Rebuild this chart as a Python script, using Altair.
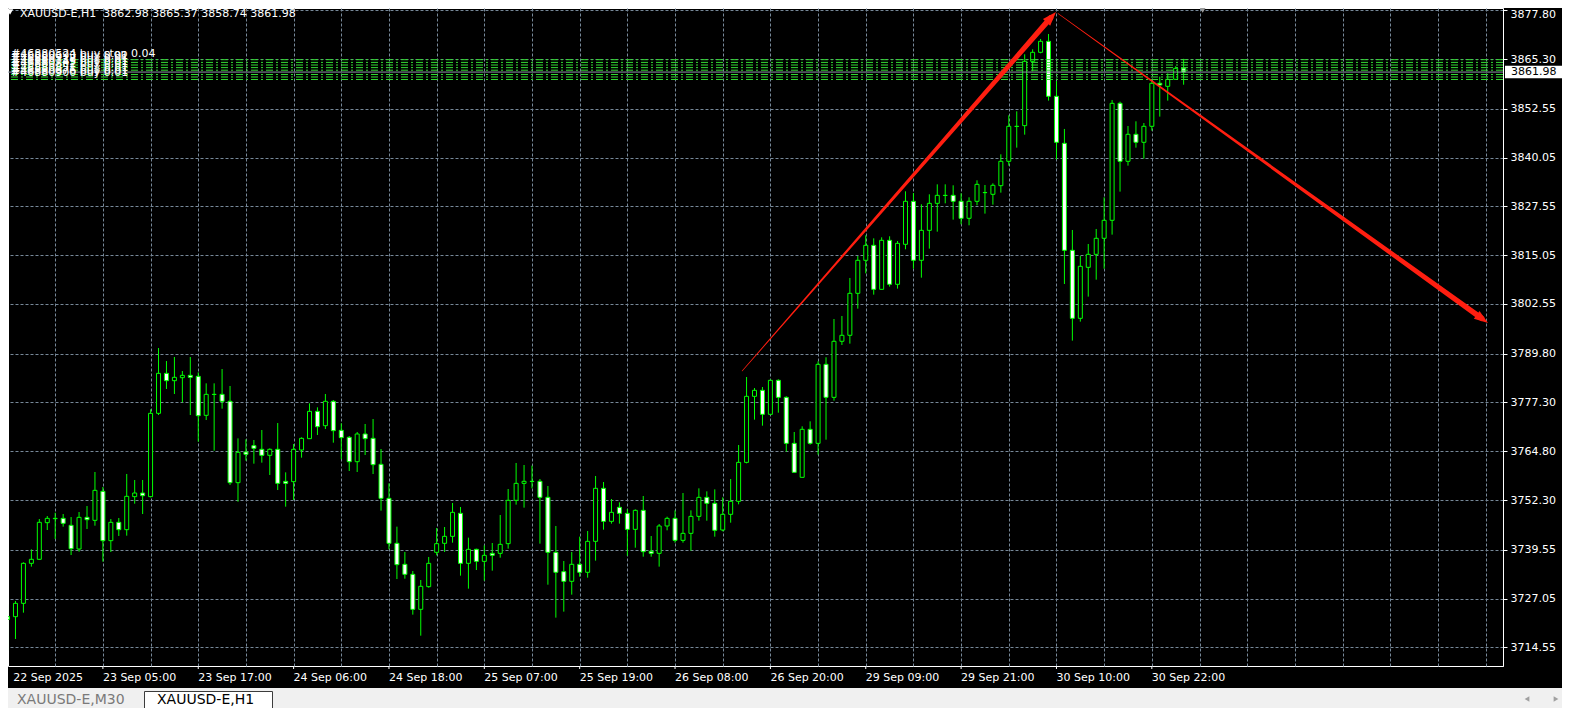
import altair as alt
import pandas as pd

# ---------------- data ----------------
bar_index = list(range(149))

opens = [
    3722.41, 3722.41, 3725.83, 3736.08, 3737.11, 3746.50, 3747.53, 3747.61, 3745.82, 3739.75,
    3747.87, 3747.10, 3754.53, 3741.89, 3746.59, 3744.71, 3753.17, 3754.10, 3753.17, 3774.52,
    3784.77, 3782.89, 3783.66, 3784.26, 3784.00, 3774.01, 3779.35, 3779.39, 3777.60, 3756.75,
    3764.61, 3766.24, 3765.30, 3763.76, 3765.30, 3757.09, 3757.01, 3765.12, 3768.03, 3775.03,
    3771.36, 3777.60, 3770.16, 3768.37, 3762.13, 3769.23, 3768.11, 3761.45, 3752.74, 3741.21,
    3735.83, 3733.26, 3724.29, 3730.10, 3738.90, 3741.21, 3743.00, 3748.90, 3736.08, 3739.67,
    3736.59, 3738.64, 3738.64, 3741.12, 3752.23, 3756.58, 3757.05, 3757.10, 3753.00, 3738.90,
    3733.95, 3731.47, 3735.83, 3733.78, 3741.72, 3755.30, 3746.84, 3750.43, 3748.89, 3744.79,
    3749.66, 3739.16, 3738.64, 3745.65, 3747.61, 3741.97, 3743.77, 3748.12, 3752.99, 3751.46,
    3744.62, 3748.64, 3751.97, 3761.96, 3778.88, 3780.42, 3774.27, 3782.98, 3778.62, 3766.83,
    3758.12, 3770.42, 3766.83, 3787.08, 3778.62, 3792.98, 3794.52, 3805.28, 3813.74, 3817.58,
    3806.30, 3818.86, 3807.59, 3817.84, 3828.86, 3813.74, 3821.42, 3828.34, 3830.35, 3830.39,
    3828.86, 3824.50, 3828.86, 3831.08, 3830.65, 3832.87, 3839.11, 3848.04, 3848.25, 3864.74,
    3867.04, 3869.86, 3855.77, 3843.72, 3816.30, 3798.87, 3811.94, 3815.27, 3819.38, 3823.99,
    3853.97, 3839.11, 3846.03, 3843.98, 3848.08, 3859.10, 3858.33, 3860.12, 3862.98,
]
highs = [
    3725.57, 3726.43, 3736.34, 3739.67, 3747.44, 3748.21, 3749.06, 3748.72, 3747.95, 3749.23,
    3750.77, 3759.49, 3755.64, 3747.44, 3747.70, 3758.98, 3757.44, 3757.44, 3775.55, 3791.26,
    3787.93, 3788.96, 3785.37, 3788.96, 3785.03, 3782.21, 3782.21, 3785.88, 3781.53, 3768.11,
    3767.86, 3767.69, 3770.25, 3765.55, 3772.04, 3759.40, 3766.66, 3768.37, 3777.08, 3776.06,
    3779.48, 3777.94, 3771.96, 3768.71, 3769.74, 3771.79, 3773.07, 3765.38, 3756.58, 3745.48,
    3738.99, 3734.12, 3731.81, 3737.71, 3745.14, 3745.39, 3751.54, 3750.52, 3742.66, 3739.84,
    3740.69, 3741.29, 3748.47, 3755.13, 3761.80, 3761.28, 3761.11, 3757.69, 3755.90, 3745.65,
    3736.68, 3738.99, 3742.92, 3744.37, 3758.46, 3756.92, 3752.57, 3751.71, 3750.00, 3749.90,
    3753.34, 3743.08, 3746.16, 3748.04, 3749.66, 3754.10, 3749.66, 3755.30, 3754.53, 3755.04,
    3752.99, 3757.69, 3766.41, 3783.83, 3781.01, 3781.27, 3783.24, 3783.24, 3778.90, 3769.74,
    3771.19, 3772.47, 3787.85, 3788.88, 3798.70, 3799.47, 3809.21, 3814.85, 3820.14, 3819.37,
    3819.63, 3819.89, 3818.69, 3831.42, 3830.99, 3828.09, 3830.65, 3833.21, 3833.21, 3832.96,
    3830.91, 3829.88, 3834.24, 3833.04, 3833.47, 3840.90, 3850.90, 3851.92, 3866.53, 3867.81,
    3870.46, 3871.74, 3859.70, 3847.40, 3821.51, 3814.85, 3817.92, 3821.77, 3829.88, 3854.83,
    3854.40, 3848.16, 3849.36, 3848.93, 3860.12, 3860.81, 3861.66, 3863.46, 3865.37,
]
lows = [
    3713.70, 3716.69, 3723.44, 3735.23, 3736.93, 3744.62, 3742.32, 3745.48, 3738.21, 3739.07,
    3744.88, 3745.73, 3736.51, 3738.98, 3743.09, 3743.17, 3751.37, 3748.72, 3752.99, 3774.09,
    3780.76, 3779.48, 3777.34, 3774.09, 3767.26, 3772.81, 3764.95, 3775.72, 3756.15, 3751.88,
    3762.39, 3761.62, 3761.88, 3758.72, 3754.87, 3750.60, 3752.31, 3763.16, 3768.03, 3768.97,
    3770.51, 3767.00, 3762.73, 3759.74, 3759.49, 3763.84, 3758.97, 3749.58, 3739.67, 3732.06,
    3732.15, 3722.93, 3717.54, 3729.85, 3738.13, 3738.99, 3741.38, 3732.92, 3729.59, 3734.37,
    3731.64, 3734.20, 3737.53, 3739.84, 3751.12, 3750.35, 3755.30, 3741.12, 3730.61, 3722.16,
    3723.70, 3728.05, 3732.66, 3732.41, 3736.77, 3744.71, 3746.25, 3746.25, 3738.04, 3740.09,
    3737.79, 3737.79, 3735.23, 3744.54, 3741.38, 3741.38, 3739.33, 3747.01, 3747.01, 3742.91,
    3744.28, 3746.50, 3751.20, 3761.71, 3772.90, 3771.36, 3774.09, 3774.69, 3764.70, 3759.40,
    3758.12, 3766.49, 3763.93, 3767.77, 3777.77, 3792.04, 3792.38, 3801.35, 3810.40, 3804.94,
    3806.30, 3806.99, 3806.48, 3816.56, 3811.60, 3809.29, 3816.73, 3821.08, 3828.34, 3824.16,
    3822.96, 3822.71, 3827.83, 3825.70, 3828.00, 3831.08, 3838.00, 3842.61, 3845.94, 3862.17,
    3866.79, 3854.66, 3839.62, 3807.67, 3793.15, 3798.02, 3804.43, 3808.78, 3811.60, 3820.32,
    3831.34, 3838.00, 3842.61, 3839.79, 3846.97, 3850.56, 3854.66, 3859.95, 3858.74,
]
closes = [
    3721.73, 3725.83, 3736.08, 3737.11, 3746.59, 3747.61, 3747.61, 3746.33, 3739.84, 3747.87,
    3747.27, 3754.79, 3741.89, 3746.59, 3744.71, 3753.25, 3754.10, 3753.42, 3774.52, 3784.77,
    3782.89, 3783.75, 3784.26, 3783.75, 3773.92, 3779.39, 3779.39, 3777.60, 3756.75, 3764.53,
    3764.01, 3765.55, 3763.76, 3765.30, 3756.58, 3756.58, 3765.30, 3768.11, 3775.03, 3771.10,
    3777.60, 3770.08, 3768.29, 3762.13, 3769.23, 3768.03, 3761.37, 3752.74, 3741.21, 3735.74,
    3733.26, 3724.29, 3730.19, 3736.08, 3741.12, 3743.00, 3749.15, 3736.08, 3739.67, 3736.59,
    3738.13, 3738.13, 3740.95, 3752.23, 3756.58, 3757.10, 3757.10, 3753.00, 3738.90, 3733.78,
    3731.47, 3735.83, 3733.78, 3741.72, 3755.30, 3746.84, 3749.15, 3748.89, 3744.79, 3749.66,
    3739.07, 3738.64, 3745.65, 3747.61, 3741.97, 3743.77, 3748.12, 3752.99, 3751.46, 3744.54,
    3748.64, 3751.97, 3761.96, 3778.88, 3780.42, 3774.27, 3782.98, 3778.62, 3766.83, 3759.40,
    3770.42, 3766.83, 3787.08, 3778.62, 3792.98, 3794.52, 3805.28, 3813.74, 3817.58, 3806.30,
    3818.86, 3807.59, 3818.09, 3828.86, 3813.74, 3821.42, 3828.34, 3830.39, 3830.39, 3828.86,
    3824.50, 3828.86, 3833.21, 3831.12, 3832.96, 3839.11, 3848.08, 3848.08, 3864.74, 3867.04,
    3869.86, 3855.77, 3843.98, 3816.30, 3798.87, 3812.20, 3815.27, 3819.38, 3823.99, 3853.97,
    3839.11, 3846.03, 3843.98, 3848.08, 3859.10, 3858.67, 3860.12, 3862.94, 3861.98,
]

price_ticks = [3714.55, 3727.05, 3739.55, 3752.30, 3764.80, 3777.30, 3789.80,
               3802.55, 3815.05, 3827.55, 3840.05, 3852.55, 3865.30, 3877.80]

date_index = [0, 12, 24, 36, 48, 60, 72, 84, 96, 108, 120, 132, 144]
date_labels = ["22 Sep 2025", "23 Sep 05:00", "23 Sep 17:00", "24 Sep 06:00",
               "24 Sep 18:00", "25 Sep 07:00", "25 Sep 19:00", "26 Sep 08:00",
               "26 Sep 20:00", "29 Sep 09:00", "29 Sep 21:00", "30 Sep 10:00",
               "30 Sep 22:00"]

order_prices = [3865.15, 3864.46, 3863.79, 3863.12, 3862.46, 3861.36, 3860.72, 3860.08]
order_labels = ["#46880524 buy stop 0.04", "#46880693 buy 0.01", "#46880718 buy 0.01",
                "#46880745 buy 0.01", "#46880802 buy 0.01", "#46880851 buy 0.01",
                "#46880876 buy 0.01", "#46880900 buy 0.01"]

bid_price = [3861.98]
header_text = "XAUUSD-E,H1\u00a0\u00a03862.98 3865.37 3858.74 3861.98"

arrow_id = ["up", "up", "down", "down"]
arrow_bar = [92.44, 131.26, 132.19, 185.50]
arrow_price = [3785.37, 3875.86, 3877.00, 3798.88]
arrow_width = [0.6, 5.5, 0.6, 5.5]

head_bar = [131.94, 186.31]
head_price = [3877.37, 3797.67]
head_angle = [42.4, 125.6]

# ---------------- tables ----------------
df = pd.DataFrame({"i": bar_index, "open": opens, "high": highs, "low": lows, "close": closes})
df_dates = pd.DataFrame({"idx": date_index, "label": date_labels})
df_orders = pd.DataFrame({"price": order_prices, "label": order_labels})
df_bid = pd.DataFrame({"price": bid_price, "label": ["3861.98"]})
df_arrow = pd.DataFrame({"arrow": arrow_id, "i": arrow_bar, "price": arrow_price, "w": arrow_width})
df_head = pd.DataFrame({"i": head_bar, "price": head_price, "ang": head_angle})
one = pd.DataFrame({"k": [0]})

# ---------------- scales / axes ----------------
XS = alt.Scale(domain=[0.6875, 187.5625], nice=False, zero=False)
YS = alt.Scale(domain=[3709.77, 3878.40], nice=False, zero=False)
GRID = "#778899"
LIME = "#00ff00"
RED = "#ff1e10"
FONT = "DejaVu Sans"

X_AXIS = alt.Axis(values=list(range(6, 188, 6)), grid=True, gridColor=GRID, gridDash=[3, 2],
                  gridWidth=1, ticks=False, labels=False, domain=False, title=None)
Y_AXIS = alt.Axis(orient="right", values=price_ticks, format=".2f", grid=True, gridColor=GRID,
                  gridDash=[3, 2], gridWidth=1, tickColor="white", tickSize=4, tickWidth=1,
                  labelColor="white", labelFont=FONT, labelFontSize=11, labelPadding=3,
                  labelOffset={"condition": {"test": "datum.value > 3870", "value": 4},
                               "value": 0},
                  domain=True, domainColor="white", title=None)


def xq(field):
    return alt.X(field, type="quantitative", scale=XS, axis=X_AXIS)


def yq(field):
    return alt.Y(field, type="quantitative", scale=YS, axis=Y_AXIS)


wicks = alt.Chart(df).mark_rule(color=LIME, strokeWidth=1, clip=True).encode(
    x=xq("i"), y=yq("low"), y2="high:Q")

bodies = alt.Chart(df).mark_bar(size=4, stroke=LIME, strokeWidth=1, clip=True).encode(
    x=xq("i"),
    y=yq("open"),
    y2="close:Q",
    fill=alt.condition("datum.close < datum.open", alt.value("white"), alt.value("black")),
)

order_lines = alt.Chart(df_orders).mark_rule(color="#33dd33", strokeWidth=1,
                                             strokeDash=[7, 3, 2, 3], clip=True).encode(
    y=yq("price"))

bid_line = alt.Chart(df_bid).mark_rule(color="#8c99a6", strokeWidth=1, clip=True).encode(
    y=yq("price"))

order_text = alt.Chart(df_orders).mark_text(align="left", baseline="alphabetic", dy=-3,
                                            color="white", font=FONT, fontSize=11).encode(
    x=alt.value(3), y=yq("price"), text="label:N")

arrows = alt.Chart(df_arrow).mark_trail(color=RED, clip=True).encode(
    x=xq("i"), y=yq("price"),
    size=alt.Size("w:Q", scale=None, legend=None),
    detail="arrow:N",
)

heads = alt.Chart(df_head).mark_point(shape="M0,0L-0.7,2L0.7,2Z", filled=True, color=RED,
                                      opacity=1, size=196, strokeWidth=0).encode(
    x=xq("i"), y=yq("price"), angle=alt.Angle("ang:Q", scale=None))

header_tri = alt.Chart(one).mark_point(shape="triangle-down", filled=True, color="white",
                                       opacity=1, size=40).encode(
    x=alt.value(2), y=alt.value(4))
header = alt.Chart(one).mark_text(text=header_text, align="left", baseline="alphabetic",
                                  color="white", font=FONT, fontSize=11).encode(
    x=alt.value(12), y=alt.value(8.7))

shift_tri = alt.Chart(one).mark_point(shape="triangle-down", filled=True, color="#9a9a9a",
                                      opacity=1, size=60).encode(
    x=alt.value(1194.7), y=alt.value(1.5))

price_box = alt.Chart(df_bid).mark_point(shape="M-1,-0.221L1,-0.221L1,0.221L-1,0.221Z",
                                         filled=True, color="white", opacity=1, size=3249,
                                         strokeWidth=0).encode(
    x=alt.value(1525.5), y=yq("price"))
price_box_text = alt.Chart(df_bid).mark_text(align="left", baseline="middle", color="black",
                                             font=FONT, fontSize=11).encode(
    x=alt.value(1503), y=yq("price"), text="label:N")

date_ticks = alt.Chart(df_dates).transform_filter("datum.idx > 0").mark_rule(
    color="white", strokeWidth=1).encode(
    x=xq("idx"), y=alt.value(658), y2=alt.value(661))
date_text = alt.Chart(df_dates).transform_calculate(
    xpos="max(datum.idx, 0.72)").mark_text(align="left", baseline="alphabetic",
                                          color="white", font=FONT, fontSize=11).encode(
    x=xq("xpos"), y=alt.value(672.5), text="label:N")

tab_bg = alt.Chart(one).mark_rect(color="#f0f0f0").encode(
    x=alt.value(0), x2=alt.value(1554), y=alt.value(680), y2=alt.value(700))
tab_sel = alt.Chart(one).mark_rect(fill="white", stroke="#3c3c3c", strokeWidth=1).encode(
    x=alt.value(136.5), x2=alt.value(264.5), y=alt.value(683.5), y2=alt.value(702))
tab1_text = alt.Chart(one).mark_text(text="XAUUSD-E,M30", align="left", baseline="middle",
                                     color="#7a7a7a", font=FONT, fontSize=14).encode(
    x=alt.value(9), y=alt.value(692))
tab2_text = alt.Chart(one).mark_text(text="XAUUSD-E,H1", align="left", baseline="middle",
                                     color="black", font=FONT, fontSize=14).encode(
    x=alt.value(149), y=alt.value(692))
scroll_l = alt.Chart(one).mark_point(shape="triangle-left", filled=True, color="#a0a0a0",
                                     opacity=1, size=30).encode(
    x=alt.value(1519), y=alt.value(691))
scroll_r = alt.Chart(one).mark_point(shape="triangle-right", filled=True, color="#a0a0a0",
                                     opacity=1, size=30).encode(
    x=alt.value(1548), y=alt.value(691))

chart = alt.layer(
    wicks, bodies, order_lines, bid_line, order_text, arrows, heads,
    header_tri, header, shift_tri, price_box, price_box_text,
    date_ticks, date_text, tab_bg, tab_sel, tab1_text, tab2_text, scroll_l, scroll_r,
).properties(
    width=1495, height=658, background="black",
    padding={"left": 0, "top": 0, "right": 59, "bottom": 42},
    autosize=alt.AutoSizeParams(type="none"),
).configure_view(stroke="white", strokeWidth=1)

chart.save("out.html", embed_options={"renderer": "svg", "actions": False})
